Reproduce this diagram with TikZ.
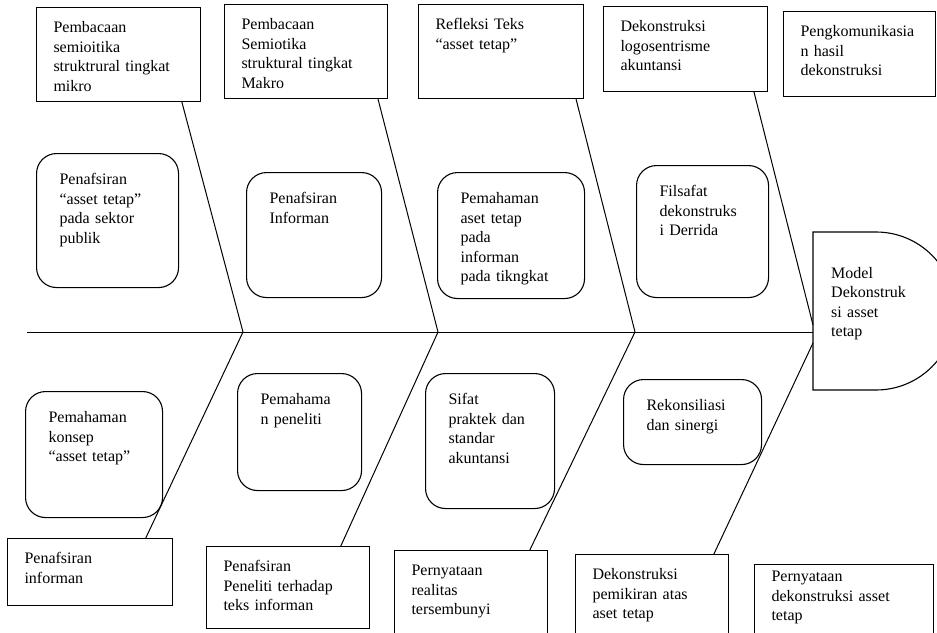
\documentclass[tikz,border=0pt]{standalone}
\usepackage{fontspec}
\setmainfont{Liberation Serif}
\usetikzlibrary{calc}
\newcommand{\huruf}{\fontsize{16}{19.5}\selectfont}
\tikzset{
  ukuran/.code n args={4}{%
    \pgfmathsetmacro\lebar{#1-#3}%
    \pgfmathsetmacro\dalam{#2-#4}%
    \edef\atur{\noexpand\tikzset{minimum width=#1pt, text width=\lebar pt, text depth=\dalam pt}}\atur},
  kotak/.style 2 args={draw, line width=1pt, anchor=north west, inner xsep=17pt, inner ysep=0pt,
    text height=25pt, align=left, font=\huruf, ukuran={#1}{#2}{34}{25}},
  bulat/.style 2 args={draw, line width=1.1pt, rounded corners=20pt, anchor=north west, inner xsep=23pt,
    inner ysep=0pt, text height=31pt, align=left, font=\huruf, ukuran={#1}{#2}{46}{31}},
  tulang/.style={line width=1pt}
}
\begin{document}
\begin{tikzpicture}[x=1pt, y=-1pt]
\useasboundingbox (0,0) rectangle (937,632);
% spine and head
\coordinate (ekor) at (27,332);
\coordinate (s1) at (243,332);
\coordinate (s2) at (438,332);
\coordinate (s3) at (635,332);
\coordinate (h0) at (813,332);
\coordinate (h1) at (813,325);
\coordinate (h2) at (813,343);
\draw[tulang] (ekor) -- (h0);
\draw[line width=1.1pt] (813,232) -- (876,232) arc[start angle=90, end angle=-90, radius=79pt] -- (813,390) -- cycle;
\node[anchor=north west, inner sep=0pt, text width=100pt, text height=12pt, align=left, font=\huruf] (kepala) at (831,266) {Model\\Dekonstruk\\si asset\\tetap};
% top boxes
\node[kotak={164}{94}] (a1) at (36,7) {Pembacaan\\semioitika\\struktrural tingkat\\mikro};
\node[kotak={163}{94}] (a2) at (224,4) {Pembacaan\\Semiotika\\struktural tingkat\\Makro};
\node[kotak={165}{94}] (a3) at (418,4) {Refleksi Teks\\“asset tetap”};
\node[kotak={164}{85}] (a4) at (603,6) {Dekonstruksi\\logosentrisme\\akuntansi};
\node[kotak={152}{85}] (a5) at (783,11) {Pengkomunikasia\\n hasil\\dekonstruksi};
% top rounded boxes
\node[bulat={142}{134}] (r1) at (36,153) {Penafsiran\\“asset tetap”\\pada sektor\\publik};
\node[bulat={135}{125}] (r2) at (246,172) {Penafsiran\\Informan};
\node[bulat={147}{126}] (r3) at (437,172) {Pemahaman\\aset tetap\\pada\\informan\\pada tikngkat};
\node[bulat={132}{132}] (r4) at (636,165) {Filsafat\\dekonstruks\\i Derrida};
% bottom rounded boxes
\node[bulat={137}{126}] (q1) at (25,391) {Pemahaman\\konsep\\“asset tetap”};
\node[bulat={124}{117}] (q2) at (237,373) {Pemahama\\n peneliti};
\node[bulat={129}{135}] (q3) at (425,373) {Sifat\\praktek dan\\standar\\akuntansi};
\node[bulat={138}{85}] (q4) at (623,379) {Rekonsiliasi\\dan sinergi};
% bottom boxes
\node[kotak={165}{67}] (c1) at (7,538) {Penafsiran\\informan};
\node[kotak={163}{82}] (c2) at (206,546) {Penafsiran\\Peneliti terhadap\\teks informan};
\node[kotak={153}{100}] (c3) at (394,550) {Pernyataan\\realitas\\tersembunyi};
\node[kotak={153}{100}] (c4) at (575,554) {Dekonstruksi\\pemikiran atas\\aset tetap};
\node[kotak={179}{100}, text height=17pt] (c5) at (754,564) {Pernyataan\\dekonstruksi asset\\tetap};
% bones
\draw[tulang] ($(a1.south west)!.884!(a1.south east)$) -- (s1);
\draw[tulang] ($(a2.south west)!.939!(a2.south east)$) -- (s2);
\draw[tulang] ($(a3.south west)!.952!(a3.south east)$) -- (s3);
\draw[tulang] ($(a4.south west)!.915!(a4.south east)$) -- (h1);
\draw[tulang] (s1) -- ($(c1.north west)!.836!(c1.north east)$);
\draw[tulang] (s2) -- ($(c2.north west)!.822!(c2.north east)$);
\draw[tulang] (s3) -- ($(c3.north west)!.882!(c3.north east)$);
\draw[tulang] (h2) -- ($(c4.north west)!.902!(c4.north east)$);
\end{tikzpicture}
\end{document}
